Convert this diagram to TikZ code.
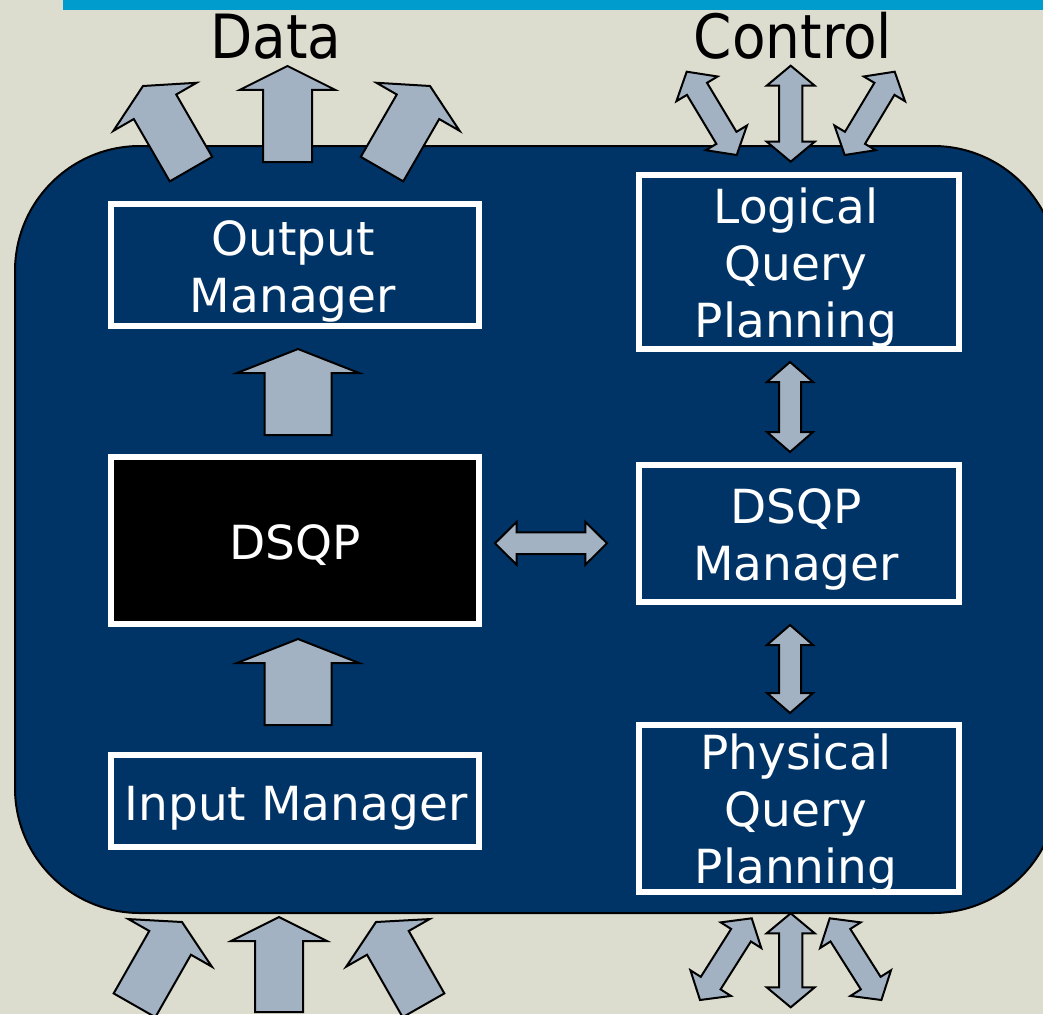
\documentclass[tikz,border=0pt]{standalone}
\usepackage{fontspec}
\setmainfont{DejaVu Sans}
\newfontfamily\headfont{DejaVu Sans Condensed}
\usetikzlibrary{calc}

\definecolor{paper}{HTML}{DCDCCF}
\definecolor{barblue}{HTML}{009CCD}
\definecolor{navy}{HTML}{003366}
\definecolor{steel}{HTML}{A3B2C2}

% single block arrow: tail, tip, half shaft, half head, head length
\newcommand{\BlkArrow}[5]{%
  \path ($(#2)!#5!(#1)$) coordinate (ah);
  \draw[blk] (#2) -- ($(ah)!#4!90:(#2)$) -- ($(ah)!#3!90:(#2)$)
    -- ($(#1)!#3!90:(#2)$) -- ($(#1)!#3!-90:(#2)$)
    -- ($(ah)!#3!-90:(#2)$) -- ($(ah)!#4!-90:(#2)$) -- cycle;
}
% double block arrow: end A, end B, half shaft, half head, head length
\newcommand{\BlkDArrow}[5]{%
  \path ($(#1)!#5!(#2)$) coordinate (ha) ($(#2)!#5!(#1)$) coordinate (hb);
  \draw[blk] (#2) -- ($(hb)!#4!90:(#2)$) -- ($(hb)!#3!90:(#2)$)
    -- ($(ha)!#3!90:(#2)$) -- ($(ha)!#4!90:(#2)$) -- (#1)
    -- ($(ha)!#4!-90:(#2)$) -- ($(ha)!#3!-90:(#2)$)
    -- ($(hb)!#3!-90:(#2)$) -- ($(hb)!#4!-90:(#2)$) -- cycle;
}

\begin{document}
\begin{tikzpicture}[x=1pt,y=-1pt,
  blk/.style={fill=steel,draw=black,line width=2pt},
  sysbox/.style={draw=black,line width=2pt,fill=navy,rounded corners=125pt,
    minimum width=1043pt,minimum height=767pt,inner sep=0pt},
  unit/.style={draw=white,line width=6pt,fill=navy,inner sep=0pt},
  core/.style={unit,fill=black},
  lbl/.style={text=white,align=center,inner sep=0pt,
    font=\fontsize{47}{57}\selectfont},
  head/.style={text=black,inner sep=0pt,anchor=base,
    font=\headfont\fontsize{61}{61}\selectfont}]

\useasboundingbox (0,0) rectangle (1043,1014);
\clip (0,0) rectangle (1043,1014);
\fill[paper] (0,0) rectangle (1043,1014);
\fill[barblue] (63,0) rectangle (1043,10);

% system outline
\node[sysbox] (sys) at (536.5,529.5) {};

% component boxes
\node[unit,minimum width=368pt,minimum height=122pt] (om) at (295,265) {};
\node[core,minimum width=368pt,minimum height=167pt] (dsqp) at (295,540.5) {};
\node[unit,minimum width=368pt,minimum height=92pt] (im) at (295,801) {};
\node[unit,minimum width=320pt,minimum height=174pt] (lqp) at (799,262) {};
\node[unit,minimum width=320pt,minimum height=137pt] (dm) at (799,533.5) {};
\node[unit,minimum width=320pt,minimum height=167pt] (pqp) at (799,808.5) {};

% box labels
\node[lbl] (omt) at (293,271) {Output\\Manager};
\node[lbl,anchor=base] (dsqpt) at (295,559) {DSQP};
\node[lbl,anchor=base] (imt) at (296,820) {Input Manager};
\node[lbl] (lqpt) at (796,268) {Logical\\Query\\Planning};
\node[lbl] (dmt) at (796,539.5) {DSQP\\Manager};
\node[lbl] (pqpt) at (796,814) {Physical\\Query\\Planning};

% headings
\node[head] (data) at (276,59) {Data};
\node[head] (ctrl) at (793,59) {Control};

% arrow end points
\coordinate (dt1) at (191,169.1);   \coordinate (dh1) at (143,86);
\coordinate (dt2) at (287.5,162);   \coordinate (dh2) at (287.5,66);
\coordinate (dt3) at (382,169.1);   \coordinate (dh3) at (430,86);
\coordinate (it1) at (134.5,1005.3); \coordinate (ih1) at (182,922);
\coordinate (it2) at (279,1012);    \coordinate (ih2) at (279,917);
\coordinate (it3) at (423.5,1005.3); \coordinate (ih3) at (376,922);
\coordinate (ca1) at (686.7,71.7);  \coordinate (cb1) at (736.7,155);
\coordinate (ca2) at (790.7,65.7);  \coordinate (cb2) at (790.7,161.7);
\coordinate (ca3) at (894.7,71.7);  \coordinate (cb3) at (844.7,155);
\coordinate (pa1) at (751.7,918.3); \coordinate (pb1) at (700,1000);
\coordinate (pa2) at (790.7,913.3); \coordinate (pb2) at (790.7,1007.3);
\coordinate (pa3) at (829.7,918.3); \coordinate (pb3) at (881.4,1000);
\coordinate (upA) at ($(dsqp.north)+(3,-19)$); \coordinate (upB) at ($(om.south)+(3,20)$);
\coordinate (inA) at ($(im.north)+(3,-27)$);   \coordinate (inB) at ($(dsqp.south)+(3,12)$);
\coordinate (hzA) at ($(dsqp.east)+(13,2.8)$); \coordinate (hzB) at ($(dm.west)+(-29,9.8)$);
\coordinate (v1A) at ($(lqp.south)+(-9,10)$);  \coordinate (v1B) at ($(dm.north)+(-9,-10)$);
\coordinate (v2A) at ($(dm.south)+(-9,20)$);   \coordinate (v2B) at ($(pqp.north)+(-9,-9)$);

% data out
\BlkArrow{dt1}{dh1}{24.5pt}{48pt}{24pt}
\BlkArrow{dt2}{dh2}{24.5pt}{48pt}{24pt}
\BlkArrow{dt3}{dh3}{24.5pt}{48pt}{24pt}
% data in
\BlkArrow{it1}{ih1}{24pt}{48pt}{24pt}
\BlkArrow{it2}{ih2}{24pt}{48pt}{24pt}
\BlkArrow{it3}{ih3}{24pt}{48pt}{24pt}
% internal data flow
\BlkArrow{upA}{upB}{33.5pt}{61pt}{24pt}
\BlkArrow{inA}{inB}{33.5pt}{61pt}{24pt}
% control
\BlkDArrow{ca1}{cb1}{11.7pt}{24pt}{20pt}
\BlkDArrow{ca2}{cb2}{11.7pt}{24pt}{20pt}
\BlkDArrow{ca3}{cb3}{11.7pt}{24pt}{20pt}
\BlkDArrow{pa1}{pb1}{11.7pt}{24pt}{20pt}
\BlkDArrow{pa2}{pb2}{11.7pt}{24pt}{20pt}
\BlkDArrow{pa3}{pb3}{11.7pt}{24pt}{20pt}
\BlkDArrow{hzA}{hzB}{10.9pt}{21.5pt}{21.7pt}
\BlkDArrow{v1A}{v1B}{11pt}{23pt}{20pt}
\BlkDArrow{v2A}{v2B}{11pt}{23pt}{20pt}
\end{tikzpicture}
\end{document}
